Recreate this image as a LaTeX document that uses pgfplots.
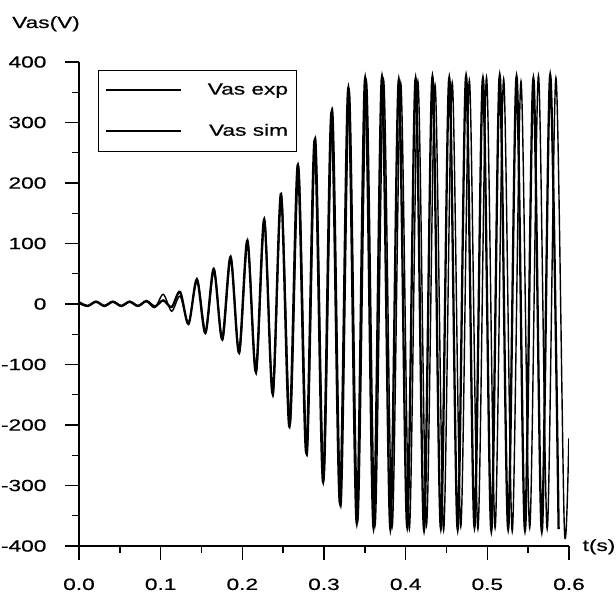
\documentclass[border=0pt]{standalone}
\usepackage{fontspec}
\setmainfont{Liberation Sans}[FakeStretch=1.4,FakeBold=0.6]
\usepackage{pgfplots}
\pgfplotsset{compat=1.18}
\newcommand\chartfont{\fontsize{16.2bp}{19bp}\selectfont}
\begin{document}
\chartfont
\begin{tikzpicture}
\useasboundingbox (-79bp,-46bp) rectangle (537bp,546bp);
\begin{axis}[
  at={(0,0)}, anchor=south west,
  scale only axis, width=490bp, height=484bp,
  xmin=0, xmax=0.6, ymin=-400, ymax=400,
  axis x line*=bottom, axis y line*=left,
  axis line style={line width=1.4bp, -},
  xtick={0,0.1,0.2,0.3,0.4,0.5,0.6},
  xticklabels={0.0,0.1,0.2,0.3,0.4,0.5,0.6},
  ytick={-400,-300,-200,-100,0,100,200,300,400},
  yticklabels={-400,-300,-200,-100,0,100,200,300,400},
  minor x tick num=1, minor y tick num=1,
  tick align=outside,
  major tick length=14bp, minor tick length=7bp,
  tick style={line width=1.4bp, black},
  tick label style={font=\chartfont},
  xticklabel style={yshift=-13bp},
  yticklabel style={xshift=-13bp},
  xlabel={t(s)},
  every axis x label/.style={at={(axis description cs:1,0)}, anchor=base west, xshift=8bp, yshift=-5bp, font=\chartfont},
  ylabel={Vas(V)},
  every axis y label/.style={at={(axis description cs:0,1)}, anchor=base, xshift=-33bp, yshift=34bp, font=\chartfont},
  legend style={at={(axis description cs:0.0388,0.9835)}, anchor=north west, draw=black, line width=0.9bp, font=\chartfont, inner xsep=6bp, inner ysep=11bp, row sep=23bp, column sep=24bp},
  legend cell align=right,
  legend image code/.code={\draw[#1] (0bp,0bp) -- (75bp,0bp);},
]
\addplot[black, line width=2.3bp, smooth] coordinates {
(0,3) (0.0105,-3) (0.0208,4) (0.0311,-3) (0.0414,4) (0.0517,-3) (0.0620,4) (0.0723,-3) (0.0826,5) (0.0929,-4) (0.1032,6) (0.1135,-5) (0.1238,20) (0.1341,-33) (0.1444,41) (0.1547,-48) (0.1650,58) (0.1753,-58) (0.1856,78) (0.1959,-80) (0.2062,105) (0.2165,-112) (0.2268,140) (0.2371,-148) (0.2474,182) (0.2577,-203) (0.2680,230) (0.2783,-246) (0.2886,271) (0.2989,-294) (0.3092,317) (0.3195,-329) (0.3298,357) (0.3401,-362) (0.3504,373) (0.3607,-370) (0.3710,375) (0.3813,-372) (0.3916,370) (0.4019,-368) (0.4122,372) (0.4225,-373) (0.4328,375) (0.4431,-370) (0.4534,373) (0.4637,-372) (0.4740,376) (0.4843,-368) (0.4946,372) (0.5049,-374) (0.5152,377) (0.5255,-371) (0.5358,375) (0.5461,-373) (0.5564,372) (0.5667,-375) (0.5770,378) (0.5873,-372)
};
\addlegendentry{Vas exp}
\addplot[black, line width=1.4bp, smooth] coordinates {
(0,1) (0.0105,-4) (0.0208,3) (0.0311,-4) (0.0414,3) (0.0517,-4) (0.0620,3) (0.0723,-4) (0.0826,4) (0.0929,-6) (0.1032,16) (0.1135,-12) (0.1238,13) (0.1341,-31) (0.1449,39) (0.1552,-46) (0.1655,56) (0.1758,-60) (0.1861,76) (0.1964,-82) (0.2067,102) (0.2170,-115) (0.2273,136) (0.2376,-152) (0.2479,178) (0.2587,-198) (0.2690,226) (0.2793,-250) (0.2896,275) (0.2999,-290) (0.3104,322) (0.3207,-334) (0.3310,352) (0.3414,-358) (0.3520,368) (0.3625,-366) (0.3730,370) (0.3835,-368) (0.3940,365) (0.4045,-372) (0.4150,368) (0.4255,-366) (0.4360,362) (0.4465,-374) (0.4570,366) (0.4675,-368) (0.4780,370) (0.4885,-372) (0.4990,375) (0.5095,-370) (0.5200,372) (0.5305,-376) (0.5412,368) (0.5519,-370) (0.5626,378) (0.5733,-372) (0.5840,374) (0.5943,-370) (0.5998,-222)
};
\addlegendentry{Vas sim}
\end{axis}
\end{tikzpicture}
\end{document}
